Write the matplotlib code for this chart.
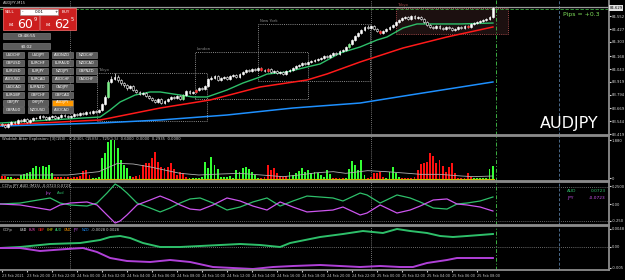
import matplotlib
matplotlib.use('Agg')
import matplotlib.pyplot as plt
from matplotlib.patches import Rectangle

# ---------------- data (M15 bars, index 0 = 23 Feb 18:00) ----------------
closes = [83.506, 83.487, 83.516, 83.535, 83.525, 83.554, 83.544, 83.564, 83.535, 83.554,
          83.573, 83.573, 83.592, 83.583, 83.564, 83.583, 83.592, 83.573, 83.583, 83.602,
          83.592, 83.583, 83.592, 83.612, 83.602, 83.621, 83.612, 83.631, 83.621, 83.640,
          83.631, 83.650, 83.708, 83.775, 83.919, 83.948, 83.967, 83.938, 83.909, 83.890,
          83.861, 83.880, 83.842, 83.822, 83.803, 83.813, 83.784, 83.765, 83.746, 83.727,
          83.756, 83.717, 83.736, 83.756, 83.775, 83.765, 83.784, 83.756, 83.794, 83.832,
          83.813, 83.822, 83.842, 83.861, 83.851, 83.880, 83.948, 83.957, 83.976, 83.938,
          83.957, 83.967, 83.948, 83.976, 83.986, 83.967, 83.996, 84.015, 84.034, 84.024,
          84.044, 84.034, 84.053, 84.034, 84.024, 84.044, 84.015, 84.024, 84.005, 84.015,
          83.996, 84.024, 84.034, 84.053, 84.072, 84.082, 84.101, 84.092, 84.111, 84.120,
          84.130, 84.140, 84.149, 84.168, 84.159, 84.178, 84.197, 84.188, 84.216, 84.226,
          84.255, 84.283, 84.322, 84.360, 84.389, 84.418, 84.447, 84.437, 84.456, 84.428,
          84.408, 84.389, 84.408, 84.428, 84.447, 84.466, 84.495, 84.514, 84.533, 84.543,
          84.524, 84.552, 84.533, 84.543, 84.524, 84.495, 84.466, 84.447, 84.437, 84.456,
          84.437, 84.428, 84.447, 84.437, 84.418, 84.428, 84.447, 84.437, 84.456, 84.447,
          84.476, 84.485, 84.495, 84.504, 84.514, 84.524, 84.543, 84.625]
highs = [83.525, 83.516, 83.525, 83.545, 83.545, 83.564, 83.564, 83.573, 83.573, 83.564,
         83.583, 83.583, 83.602, 83.602, 83.592, 83.592, 83.602, 83.602, 83.592, 83.612,
         83.612, 83.602, 83.602, 83.621, 83.621, 83.631, 83.631, 83.640, 83.640, 83.650,
         83.650, 83.660, 83.717, 83.794, 83.938, 83.976, 84.005, 83.986, 83.948, 83.919,
         83.900, 83.890, 83.890, 83.851, 83.832, 83.822, 83.822, 83.794, 83.775, 83.756,
         83.765, 83.765, 83.746, 83.765, 83.784, 83.784, 83.794, 83.794, 83.803, 83.842,
         83.842, 83.832, 83.851, 83.871, 83.871, 83.890, 83.957, 83.976, 83.986, 83.986,
         83.967, 83.976, 83.976, 83.986, 83.996, 83.996, 84.005, 84.024, 84.044, 84.044,
         84.053, 84.053, 84.063, 84.063, 84.044, 84.053, 84.053, 84.034, 84.034, 84.024,
         84.024, 84.034, 84.044, 84.063, 84.082, 84.092, 84.111, 84.111, 84.120, 84.130,
         84.140, 84.149, 84.159, 84.178, 84.178, 84.188, 84.207, 84.207, 84.226, 84.236,
         84.264, 84.293, 84.332, 84.370, 84.399, 84.428, 84.456, 84.466, 84.466, 84.466,
         84.437, 84.418, 84.418, 84.437, 84.456, 84.476, 84.504, 84.524, 84.543, 84.552,
         84.552, 84.562, 84.562, 84.552, 84.552, 84.533, 84.504, 84.476, 84.456, 84.466,
         84.466, 84.447, 84.456, 84.456, 84.447, 84.437, 84.456, 84.456, 84.466, 84.466,
         84.485, 84.495, 84.504, 84.514, 84.524, 84.533, 84.552, 84.635]
lows = [83.497, 83.478, 83.478, 83.506, 83.516, 83.516, 83.535, 83.535, 83.525, 83.525,
        83.545, 83.564, 83.564, 83.573, 83.554, 83.554, 83.573, 83.564, 83.564, 83.573,
        83.583, 83.573, 83.573, 83.583, 83.592, 83.592, 83.602, 83.602, 83.612, 83.612,
        83.621, 83.621, 83.640, 83.698, 83.765, 83.909, 83.938, 83.919, 83.890, 83.871,
        83.842, 83.851, 83.832, 83.813, 83.794, 83.794, 83.775, 83.756, 83.736, 83.717,
        83.717, 83.708, 83.708, 83.727, 83.746, 83.756, 83.756, 83.746, 83.746, 83.784,
        83.803, 83.803, 83.813, 83.832, 83.842, 83.842, 83.871, 83.938, 83.948, 83.928,
        83.928, 83.948, 83.938, 83.938, 83.967, 83.957, 83.957, 83.986, 84.005, 84.015,
        84.015, 84.024, 84.024, 84.024, 84.015, 84.015, 84.005, 84.005, 83.996, 83.996,
        83.986, 83.986, 84.015, 84.024, 84.044, 84.063, 84.072, 84.082, 84.082, 84.101,
        84.111, 84.120, 84.130, 84.140, 84.149, 84.149, 84.168, 84.178, 84.178, 84.207,
        84.216, 84.245, 84.274, 84.312, 84.351, 84.380, 84.408, 84.428, 84.428, 84.418,
        84.399, 84.380, 84.380, 84.399, 84.418, 84.437, 84.456, 84.485, 84.504, 84.524,
        84.514, 84.514, 84.524, 84.524, 84.514, 84.485, 84.456, 84.437, 84.428, 84.428,
        84.428, 84.418, 84.418, 84.428, 84.408, 84.408, 84.418, 84.428, 84.428, 84.437,
        84.437, 84.466, 84.476, 84.485, 84.495, 84.504, 84.514, 84.533]
opens = [83.516] + closes[:-1]
signal_up = [34, 58, 111]
signal_dn = [62, 83, 85, 121, 149]

ma_fast_x = [-0.6, 15.4, 31.4, 34.6, 37.8, 42.6, 47.4, 50.6, 61.1, 65.6, 72, 77.1, 82.6,
             84.8, 91.2, 97.6, 101.8, 108.2, 114.6, 120, 123.2, 128.3, 132.8, 146.6, 157.1]
ma_fast_y = [83.525, 83.554, 83.583, 83.650, 83.727, 83.794, 83.823, 83.823, 83.775, 83.775,
             83.842, 83.909, 83.967, 83.995, 84.015, 84.063, 84.092, 84.197, 84.255, 84.322,
             84.351, 84.437, 84.476, 84.476, 84.485]
ma_mid_x = [-0.6, 31.4, 50.6, 66.6, 82.6, 97.6, 104, 114.6, 128.3, 142.4, 157.1]
ma_mid_y = [83.506, 83.554, 83.669, 83.746, 83.871, 83.938, 83.996, 84.111, 84.245, 84.351, 84.447]
ma_slow_x = [-0.6, 31.4, 50.6, 72, 93.1, 114.6, 130.6, 157.1]
ma_slow_y = [83.496, 83.525, 83.554, 83.602, 83.669, 83.717, 83.794, 83.919]

wae_hist = [12, 12, 8, 8, 5, 5, 15, 18, 22, 25,
            35, 42, 38, 42, 40, 45, 20, 10, 8, 10,
            8, 10, 5, 10, 8, 12, 28, 30, 15, 5,
            5, 8, 65, 80, 115, 120, 120, 95, 60, 45,
            35, 12, 10, 12, 15, 45, 52, 50, 65, 85,
            55, 38, 35, 40, 50, 32, 15, 25, 20, 8,
            5, 5, 5, 5, 8, 55, 35, 70, 45, 32,
            10, 10, 8, 12, 5, 30, 25, 35, 38, 32,
            25, 15, 5, 5, 8, 45, 30, 35, 22, 12,
            10, 12, 25, 15, 20, 28, 35, 25, 30, 22,
            25, 20, 15, 10, 30, 18, 5, 5, 5, 5,
            5, 32, 57, 45, 30, 60, 15, 5, 10, 20,
            22, 25, 10, 5, 25, 38, 22, 10, 5, 5,
            5, 5, 8, 30, 48, 50, 55, 80, 72, 50,
            60, 42, 25, 40, 50, 20, 5, 5, 5, 20,
            10, 5, 5, 5, 5, 5, 32, 42]
wae_side = ("rrggrrgggg" "gggggggrrr" "rrrrrrrrrg" "gggggggggg" "ggrrrrrrrr"
            "rrrrrrrrrr" "gggggggggg" "gggggggggg" "gggrrrrrrr" "rrgggggggg"
            "ggggggrrrr" "gggggggrrr" "rrrgggggrr" "rrrrrrrrrr" "rrrrrrrrrr" "rggggggg")
wae_line_x = [0, 21, 31, 37, 42, 47, 53, 57, 63, 70, 76, 83, 90, 95, 101, 106, 110,
              117, 123, 130, 134, 140, 147, 151, 157]
wae_line_y = [15, 15, 25, 50, 48, 40, 28, 20, 15, 18, 20, 15, 10, 15, 22, 25, 20,
              28, 25, 20, 17, 17, 12, 10, 12]

ccf1_x = [-0.6, 5.8, 15.4, 18.6, 21.8, 27.2, 30.4, 33.6, 36.2, 37.8, 40, 43.2, 47.4, 50.6,
          53.8, 57, 60.2, 63.4, 67.5, 72, 76.2, 80.3, 84.8, 89, 93.1, 97.6, 101.8, 105.9,
          109.1, 114.6, 116.8, 121, 126.4, 130.6, 133.8, 138, 142.4, 145.6, 148.8, 153, 157.1]
ccf1_aud = [0.0, 0.010, 0.062, 0.010, -0.010, -0.021, 0.010, 0.113, 0.206, 0.175, 0.113,
            0.010, -0.041, -0.082, -0.041, 0.010, 0.052, 0.062, 0.010, -0.062, -0.031,
            0.021, 0.062, -0.021, 0.031, 0.082, 0.072, 0.062, 0.031, 0.113, 0.093, 0.010,
            0.093, 0.062, 0.021, -0.041, -0.052, 0.0, 0.010, 0.031, 0.0723]
ccf1_jpy = [0.0, -0.010, -0.062, -0.010, 0.010, 0.021, -0.010, -0.113, -0.196, -0.175, -0.113,
            -0.010, 0.041, 0.082, 0.041, -0.010, -0.052, -0.062, -0.010, 0.062, 0.031,
            -0.021, -0.062, 0.021, -0.031, -0.082, -0.072, -0.062, -0.031, -0.113, -0.093, -0.010,
            -0.093, -0.062, -0.021, 0.041, 0.052, 0.0, -0.010, -0.031, -0.0723]

ccf2_aud_x = [-0.6, 5.8, 15.4, 25, 31.4, 34.6, 37.8, 41, 45.1, 50.6, 57, 63.4, 69.8, 76.2,
              82.6, 89, 92.2, 95.4, 101.8, 109.1, 115.5, 121.9, 126.4, 130.6, 136, 140.2,
              144.3, 148.8, 153, 157.1]
ccf2_aud = [-0.00025, 0.0, 0.00075, 0.001, 0.00175, 0.0025, 0.00275, 0.00225, 0.001, 0.0,
            0.0, 0.00025, 0.0005, 0.00075, 0.0005, 0.0, 0.001, 0.0015, 0.0025, 0.00325,
            0.004, 0.0035, 0.0045, 0.004, 0.0035, 0.00275, 0.0025, 0.00275, 0.003, 0.00325]
ccf2_jpy_x = [-0.6, 5.8, 12.2, 20.8, 25.9, 30.4, 34.6, 40, 47.4, 53.8, 60.2, 67.5, 73.9,
              80.3, 86.7, 93.1, 101.8, 108.2, 114.6, 121, 127.4, 131.5, 136, 142.4, 145.6,
              150.7, 157.1]
ccf2_jpy = [-0.00025, -0.00025, -0.001, -0.0005, -0.00025, -0.00125, -0.00275, -0.0035,
            -0.00375, -0.00325, -0.00375, -0.005, -0.00525, -0.0055, -0.005, -0.00475,
            -0.0045, -0.00475, -0.005, -0.00475, -0.005, -0.005, -0.004, -0.00325,
            -0.00275, -0.00275, -0.00275]

time_labels = ['23 Feb 2021', '23 Feb 20:00', '23 Feb 22:00', '24 Feb 00:00', '24 Feb 02:00',
               '24 Feb 04:00', '24 Feb 06:00', '24 Feb 08:00', '24 Feb 10:00', '24 Feb 12:00',
               '24 Feb 14:00', '24 Feb 16:00', '24 Feb 18:00', '24 Feb 20:00', '24 Feb 22:00',
               '25 Feb 00:00', '25 Feb 02:00', '25 Feb 04:00', '25 Feb 06:00', '25 Feb 08:00']
price_ticks = [84.552, 84.427, 84.303, 84.168, 84.043, 83.919, 83.794, 83.669, 83.544, 83.419]
bid = 84.629

sessions = [('Tokyo', 30.4, 65.6, 83.544, 84.005, '#8a8a8a'),
            ('London', 61.8, 97.9, 83.755, 84.207, '#8a8a8a'),
            ('New York', 81.9, 117.8, 83.928, 84.475, '#8a8a8a'),
            ('Tokyo', 126.1, 161.9, 84.380, 84.629, '#a04848')]

pair_rows = [['USDCHF', 'USDJPY', 'AUDNZD', 'NZDCHF'],
             ['GBPUSD', 'EURCHF', 'EURAUD', 'NZDCAD'],
             ['EURUSD', 'EURJPY', 'NZDJPY', 'GBPNZD'],
             ['AUDUSD', 'EURCAD', 'AUDCHF', 'CADCHF'],
             ['USDCAD', 'EURNZD', 'CADJPY'],
             ['EURGBP', 'GBPCHF', 'GBPCAD'],
             ['GBPJPY', 'CHFJPY', 'AUDJPY'],
             ['GBPAUD', 'NZDUSD', 'AUDCAD']]

# ---------------- layout ----------------
W, H = 625, 280
XL = (-0.64, 194.24)
TICK_FS = 2.7
fig = plt.figure(figsize=(6.25, 2.8), dpi=100, facecolor='black')


def panel(y0, y1):
    ax = fig.add_axes([0, 1 - y1 / H, 609 / W, (y1 - y0) / H])
    ax.set_facecolor('black')
    ax.set_xlim(*XL)
    for s in ['top', 'bottom', 'right']:
        ax.spines[s].set_color('#8c8c8c')
        ax.spines[s].set_linewidth(1.3)
    ax.spines['left'].set_visible(False)
    ax.yaxis.tick_right()
    ax.tick_params(axis='y', colors='#d8d8d8', labelsize=TICK_FS, length=1.5, pad=0.6)
    ax.tick_params(axis='x', bottom=False, labelbottom=False)
    for xv in [21.8, 118]:
        ax.axvline(xv, color='#9a9a9a', ls=(0, (1, 1.5)), lw=0.6)
    ax.axvline(158.2, color='#3cb043', ls=(0, (4, 2, 1, 2)), lw=0.7)
    ax.axvline(178.2, color='#4a6a8a', ls=(0, (3, 2)), lw=0.7)
    return ax


ax = panel(0, 135)
ax_w = panel(136, 181)
ax_c1 = panel(182, 225)
ax_c2 = panel(226, 270)

# ---------------- main price panel ----------------
ax.set_ylim(83.410, 84.706)
ax.spines['top'].set_visible(False)
for name, x0, x1, lo, hi, col in sessions:
    fill = '#1c1010' if col != '#8a8a8a' else 'none'
    ax.add_patch(Rectangle((x0, lo), x1 - x0, hi - lo, facecolor=fill, edgecolor=col,
                           ls=(0, (1, 1.2)), lw=0.7, zorder=1))
    ax.text(x0 + 0.5, hi + 0.006, name, color=col, fontsize=2.7, va='bottom', ha='left')

ax.axhline(bid + 0.008, color='#9a9a9a', lw=0.9, zorder=2)
ax.axhline(bid - 0.012, color='#3cb043', ls=(0, (4, 2)), lw=0.6, zorder=2)

ax.plot(ma_slow_x, ma_slow_y, color='#1e90ff', lw=1.1, zorder=3)
ax.plot(ma_mid_x, ma_mid_y, color='#ff1a1a', lw=1.1, zorder=3)
ax.plot(ma_fast_x, ma_fast_y, color='#2ebf6a', lw=1.0, zorder=3)

xs = list(range(len(closes)))
ax.vlines(xs, lows, highs, color='white', lw=0.5, zorder=4)
for i in xs:
    o, c = opens[i], closes[i]
    body = max(abs(c - o), 0.003)
    if i in signal_up:
        fc, ec = '#7ef08a', '#7ef08a'
    elif i in signal_dn:
        fc, ec = '#ff3030', '#ff3030'
    elif c >= o:
        fc, ec = 'white', 'white'
    else:
        fc, ec = 'black', 'white'
    ax.bar(i, body, bottom=min(o, c), width=0.62, color=fc, edgecolor=ec, lw=0.4, zorder=5)

ax.set_yticks(price_ticks)
ax.set_yticklabels([f'{p:.3f}' for p in price_ticks])
ax.text(1.001, bid, f'{bid:.3f}', transform=ax.get_yaxis_transform(), fontsize=TICK_FS,
        color='black', va='center', ha='left',
        bbox=dict(facecolor='#e0e0e0', edgecolor='none', pad=0.5))
ax.text(0.924, 0.885, 'Pips = +0.3', transform=ax.transAxes, color='#7fe05a', fontsize=4.4)
ax.text(0.886, 0.055, 'AUDJPY', transform=ax.transAxes, color='white', fontsize=11.5)

# ---------------- Waddah Attar Explosion ----------------
ax_w.set_ylim(-3, 132)
ax_w.bar(xs, wae_hist, width=0.62,
         color=['#33ff33' if s == 'g' else '#ff1010' for s in wae_side], zorder=3)
ax_w.plot(wae_line_x, wae_line_y, color='#b0b0b0', lw=0.6, zorder=4)
ax_w.plot([-0.6, 157.4], [2, 2], color='#d0c000', lw=0.8, zorder=5)
ax_w.set_yticks([120, 6])
ax_w.set_yticklabels(['1.880', '0'])
ax_w.text(0.004, 0.97, 'Waddah Attar Explosion: [3](150) - 0.4(30), (15)(5) - 725(1.5)  '
          '0.6000  0.0000  0.2935  0.0000', transform=ax_w.transAxes, color='#d0d0d0',
          fontsize=2.7, va='top')

# ---------------- CCFp JPY / AUD ----------------
ax_c1.set_ylim(-0.2163, 0.2266)
for lv in [0.18, -0.18]:
    ax_c1.axhline(lv, color='#8c8c8c', ls=(0, (1, 1.5)), lw=0.6)
ax_c1.plot(ccf1_x, ccf1_aud, color='#2ebf6a', lw=0.9)
ax_c1.plot(ccf1_x, ccf1_jpy, color='#cc55ee', lw=0.9)
ax_c1.set_yticks([0.185, 0.0, -0.175])
ax_c1.set_yticklabels(['0.2500', '0.00', '-0.250'])
ax_c1.text(0.004, 0.96, 'CCFp JPY AUD (M15) -0.0723 0.0723', transform=ax_c1.transAxes,
           color='#d0d0d0', fontsize=2.7, va='top')
ax_c1.text(0.074, 0.8, 'Jpy', transform=ax_c1.transAxes, color='#cc55ee', fontsize=2.7, va='top')
ax_c1.text(0.094, 0.8, 'Aud', transform=ax_c1.transAxes, color='#2ebf6a', fontsize=2.7, va='top')
ax_c1.text(0.931, 0.76, 'AUD', transform=ax_c1.transAxes, color='#2ebf6a', fontsize=3.2)
ax_c1.text(0.995, 0.76, '0.0723', transform=ax_c1.transAxes, color='#2ebf6a', fontsize=3.2, ha='right')
ax_c1.text(0.931, 0.60, 'JPY', transform=ax_c1.transAxes, color='#cc55ee', fontsize=3.2)
ax_c1.text(0.995, 0.60, '-0.0723', transform=ax_c1.transAxes, color='#cc55ee', fontsize=3.2, ha='right')

# ---------------- CCFp all currencies ----------------
ax_c2.set_ylim(-0.00575, 0.00525)
ax_c2.axhline(0, color='#8c8c8c', ls=(0, (1, 1.5)), lw=0.6)
ax_c2.plot(ccf2_aud_x, ccf2_aud, color='#2ebf6a', lw=1.4)
ax_c2.plot(ccf2_jpy_x, ccf2_jpy, color='#b040d8', lw=1.4)
ax_c2.set_yticks([0.0045, 0.0, -0.0052])
ax_c2.set_yticklabels(['0.0048', '0.00', '-0.005'])
ccy_cols = [('USD', 'white'), ('EUR', '#ff55cc'), ('GBP', '#ff2020'), ('CHF', '#ffff00'),
            ('AUD', '#2ebf6a'), ('CAD', '#ff9900'), ('JPY', '#cc55ee'), ('NZD', '#1e90ff')]
ax_c2.text(0.004, 0.96, 'CCFp', transform=ax_c2.transAxes, color='#d0d0d0', fontsize=2.7, va='top')
for k, (nm, col) in enumerate(ccy_cols):
    ax_c2.text(0.033 + k * 0.0145, 0.96, nm, transform=ax_c2.transAxes, color=col,
               fontsize=2.4, va='top')
ax_c2.text(0.150, 0.96, '-0.0028 0.0028', transform=ax_c2.transAxes, color='#d0d0d0',
           fontsize=2.6, va='top')

ax_c2.set_xticks(list(range(0, 153, 8)))
ax_c2.set_xticklabels(time_labels, ha='left')
ax_c2.tick_params(axis='x', bottom=True, labelbottom=True, colors='#c8c8c8', labelsize=2.5,
                  length=1.5, pad=1.2)

# ---------------- trade panel overlay (pixel space) ----------------
ui = fig.add_axes([0, 0, 1, 1])
ui.set_zorder(10)
ui.set_xlim(0, W)
ui.set_ylim(H, 0)
ui.axis('off')
ui.patch.set_alpha(0)

ui.text(3, 3, 'AUDJPY,M15', color='#d0d0d0', fontsize=2.7, va='center')
ui.add_patch(Rectangle((3, 8), 36, 22, facecolor='#cc1f1f', edgecolor='#ff7070', lw=0.5))
ui.add_patch(Rectangle((40, 8), 36, 22, facecolor='#cc1f1f', edgecolor='#ff7070', lw=0.5))
ui.add_patch(Rectangle((20, 8.5), 38, 6.5, facecolor='white', edgecolor='#909090', lw=0.4))
ui.text(22, 11.8, '-', color='black', fontsize=3.0, va='center')
ui.text(39, 11.8, '0.01', color='black', fontsize=3.0, va='center', ha='center')
ui.text(54.5, 11.8, '+', color='black', fontsize=3.0, va='center')
ui.text(5, 12, 'SELL', color='white', fontsize=3.0, va='center')
ui.text(62, 12, 'BUY', color='white', fontsize=3.0, va='center')
ui.text(9, 25.5, '84', color='white', fontsize=3.2, va='center')
ui.text(17.5, 24.5, '60', color='white', fontsize=9, va='center')
ui.text(33.5, 19.5, '9', color='white', fontsize=3.6, va='center')
ui.text(46, 25.5, '84', color='white', fontsize=3.2, va='center')
ui.text(54.5, 24.5, '62', color='white', fontsize=9, va='center')
ui.text(71, 19.5, '5', color='white', fontsize=3.6, va='center')

for y0, label in [(33, '09:48:55'), (43, '$0.02')]:
    ui.add_patch(Rectangle((3, y0), 47, 6, facecolor='#5c5c5c', edgecolor='#8a8a8a', lw=0.4))
    ui.text(26.5, y0 + 3, label, color='white', fontsize=3.0, va='center', ha='center')

col_x = [3, 27.5, 52, 76]
row_y = [52, 60, 68, 76, 84, 92, 99.5, 107]
for r, row in enumerate(pair_rows):
    for c, pair in enumerate(row):
        fc = '#ff9900' if pair == 'AUDJPY' else '#5c5c5c'
        ui.add_patch(Rectangle((col_x[c], row_y[r]), 20.5, 6, facecolor=fc,
                               edgecolor='#8a8a8a', lw=0.4))
        ui.text(col_x[c] + 10.25, row_y[r] + 3, pair, color='white', fontsize=2.6,
                va='center', ha='center')

fig.savefig('out.png', dpi=100, facecolor='black')
